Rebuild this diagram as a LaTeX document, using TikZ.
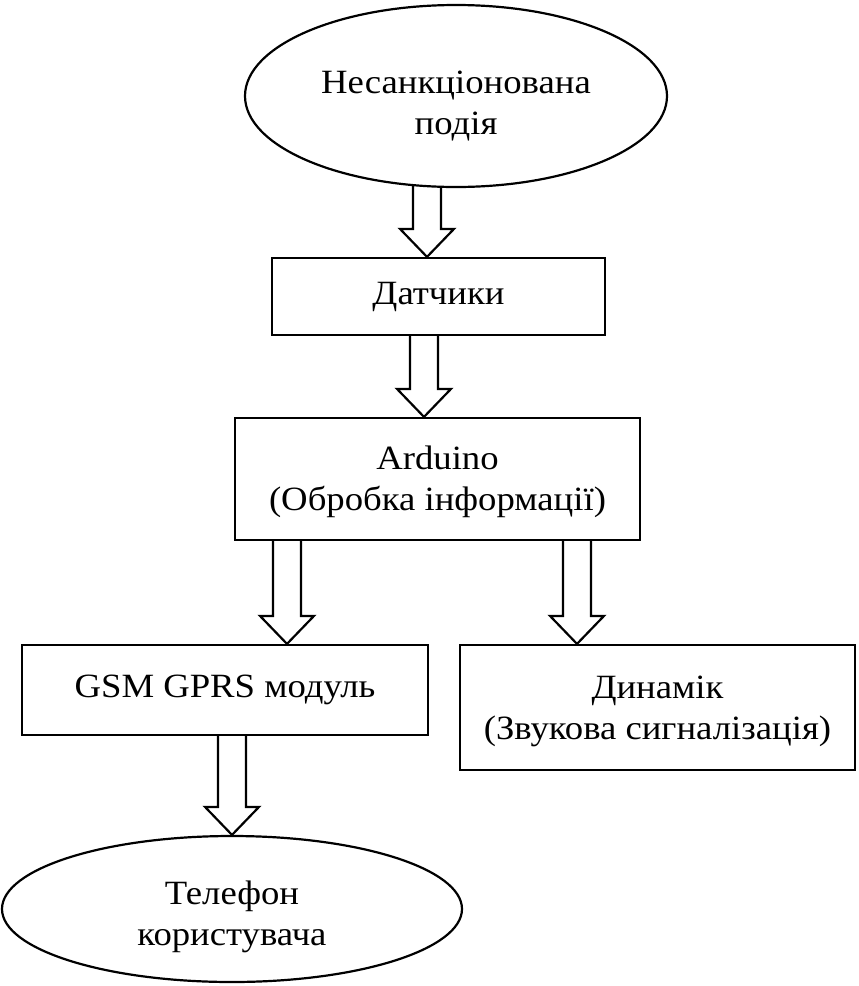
\documentclass[tikz,border=0pt]{standalone}
\usepackage{fontspec}
\setmainfont{Liberation Serif}[FakeStretch=1.08]
\usetikzlibrary{shapes.geometric,calc,backgrounds}
\tikzset{
  lbl/.style={font=\fontsize{34}{41}\selectfont, align=center, inner sep=0pt},
  boxnode/.style={lbl, draw, line width=2.2pt, fill=white},
  ovalnode/.style={lbl, ellipse, draw, line width=2.2pt, fill=white},
  arrowline/.style={draw, line width=2.2pt, fill=white, line join=miter},
}
\newcommand\blockarr[2]{%
  \draw[arrowline] let \p1=#1, \p2=#2 in
    (\x1-14pt,\y1) -- (\x1-14pt,\y2+28pt) -- (\x1-27pt,\y2+28pt) -- (\x1,\y2)
    -- (\x1+27pt,\y2+28pt) -- (\x1+14pt,\y2+28pt) -- (\x1+14pt,\y1);}
\newcommand\lowerby[1]{\rule{0pt}{#1}}
\begin{document}
\begin{tikzpicture}[x=1pt,y=1pt]
\useasboundingbox (0,0) rectangle (859,-986);
\node[ovalnode, minimum width=422pt, minimum height=182pt] (event) at (456,-96) {\lowerby{42pt}Несанкціонована\\подія};
\node[boxnode, minimum width=333pt, minimum height=77pt] (sens) at (438.5,-296.5) {Датчики};
\node[boxnode, minimum width=405pt, minimum height=122pt] (ard) at (437.5,-479) {\lowerby{30pt}Arduino\\(Обробка інформації)};
\node[boxnode, minimum width=406pt, minimum height=90pt] (gsm) at (225,-690) {GSM GPRS модуль};
\node[boxnode, minimum width=395pt, minimum height=125pt] (spk) at (657.5,-707.5) {\lowerby{30pt}Динамік\\(Звукова сигналізація)};
\node[ovalnode, minimum width=460pt, minimum height=146pt] (phone) at (232,-909) {\lowerby{40pt}Телефон\\користувача};
\coordinate (ax1) at (427,0);
\coordinate (ax2) at (424,0);
\coordinate (ax3) at (287,0);
\coordinate (ax4) at (577,0);
\coordinate (ax5) at (232,0);
\begin{scope}[on background layer]
\blockarr{(ax1 |- event.center)}{(ax1 |- sens.north)}
\end{scope}
\blockarr{(ax2 |- sens.south)}{(ax2 |- ard.north)}
\blockarr{(ax3 |- ard.south)}{(ax3 |- gsm.north)}
\blockarr{(ax4 |- ard.south)}{(ax4 |- spk.north)}
\blockarr{(ax5 |- gsm.south)}{(ax5 |- phone.north)}
\end{tikzpicture}
\end{document}
